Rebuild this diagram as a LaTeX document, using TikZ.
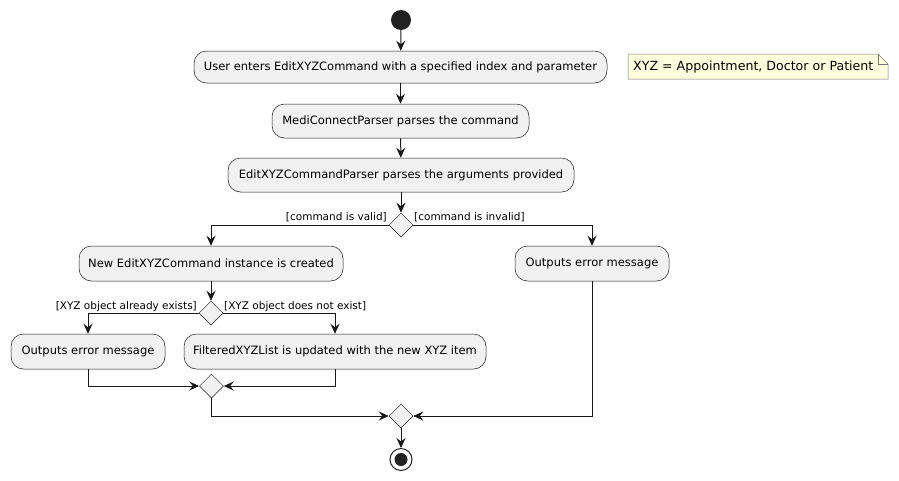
\documentclass[tikz,border=0pt]{standalone}
\usepackage{fontspec}
\setmainfont{DejaVu Sans}
\usetikzlibrary{shapes.geometric,arrows.meta}
\definecolor{boxfill}{HTML}{F1F1F1}
\definecolor{ink}{HTML}{181818}
\definecolor{dot}{HTML}{222222}
\definecolor{notefill}{HTML}{FEFFDD}
\tikzset{
  act/.style={draw=ink, line width=0.5pt, fill=boxfill, rounded corners=12.5pt,
    minimum height=34pt, inner sep=0pt, font=\fontsize{11.5}{13}\selectfont},
  dec/.style={draw=ink, line width=0.5pt, fill=boxfill, diamond, minimum width=24pt,
    minimum height=24pt, inner sep=0pt},
  flow/.style={draw=ink, line width=1pt, -{Stealth[length=10pt,width=9pt,inset=3.5pt]}},
  guard/.style={inner sep=0pt, font=\fontsize{10.5}{12}\selectfont},
}
\begin{document}
\begin{tikzpicture}[x=1pt,y=-1pt]
\useasboundingbox (0,0) rectangle (899,480);
\fill[white] (0,0) rectangle (899,480);
% start
\node[circle, fill=dot, minimum size=20pt, inner sep=0pt] (start) at (401,20) {};
% actions
\node[act, minimum width=413pt, minimum height=32pt] (b1) at (400.5,67) {User enters EditXYZCommand with a specified index and parameter};
\node[act, minimum width=257pt] (b2) at (400.5,121) {MediConnectParser parses the command};
\node[act, minimum width=346pt] (b3) at (401,175) {EditXYZCommandParser parses the arguments provided};
\node[dec] (d1) at (401,225) {};
\node[act, minimum width=264pt, minimum height=35pt] (bnew) at (211,263.5) {New EditXYZCommand instance is created};
\node[act, minimum width=154pt, minimum height=35pt] (errR) at (592,263.5) {Outputs error message};
\node[dec] (d2) at (211,313) {};
\node[act, minimum width=154pt, minimum height=35pt] (errL) at (88,351.5) {Outputs error message};
\node[act, minimum width=302pt, minimum height=35pt] (filt) at (335,351.5) {FilteredXYZList is updated with the new XYZ item};
\node[dec] (m1) at (211.5,386) {};
\node[dec] (m2) at (401,416) {};
% end
\node[circle, draw=dot, line width=1pt, fill=white, minimum size=22pt, inner sep=0pt] (end) at (401,459.5) {};
\node[circle, fill=dot, minimum size=13pt, inner sep=0pt] (endin) at (end.center) {};
% note
\draw[draw=ink!60, line width=0.5pt, fill=notefill] (628,54) -- (878,54) -- (888,64) -- (888,79) -- (628,79) -- cycle;
\draw[draw=ink!60, line width=0.5pt] (878,54) -- (878,64) -- (888,64);
\node[anchor=west, inner sep=0pt, font=\fontsize{12.6}{14}\selectfont] (note) at (633,67) {XYZ = Appointment, Doctor or Patient};
% connectors
\draw[flow] (start) -- (b1);
\draw[flow] (b1) -- (b2);
\draw[flow] (b2) -- (b3);
\draw[flow] (b3) -- (d1);
\draw[flow] (d1.west) -| (bnew.north);
\draw[flow] (d1.east) -| (errR.north);
\node[guard, anchor=base east] (g1) at (387,220) {[command is valid]};
\node[guard, anchor=base west] (g2) at (414,220) {[command is invalid]};
\draw[flow] (bnew) -- (d2);
\draw[flow] (d2.west) -| (errL.north);
\draw[flow] (d2.east) -| (filt.north);
\node[guard, anchor=base east] (g3) at (197,309) {[XYZ object already exists]};
\node[guard, anchor=base west] (g4) at (224,309) {[XYZ object does not exist]};
\draw[flow] (errL.south) |- (m1.west);
\draw[flow] (filt.south) |- (m1.east);
\draw[flow] (m1.south) |- (m2.west);
\draw[flow] (errR.south) |- (m2.east);
\draw[flow] (m2.south) -- (end.north);
\end{tikzpicture}
\end{document}
